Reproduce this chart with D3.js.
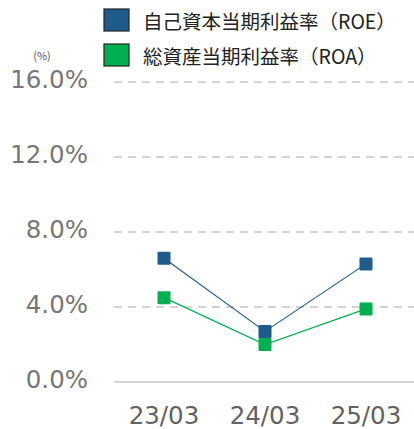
<!DOCTYPE html>
<html><head><meta charset="utf-8">
<script src="https://cdn.jsdelivr.net/npm/d3@7/dist/d3.min.js"></script>
<style>body{margin:0;background:#fff}svg{display:block}</style>
</head><body>
<svg id="c" width="414" height="429"></svg>
<script>
const categories = ["23/03","24/03","25/03"];
const roe = [6.6, 2.7, 6.3];
const roa = [4.5, 2.0, 3.9];
const yTicks = [0, 4, 8, 12, 16];
const seriesNames = ["自己資本当期利益率（ROE）", "総資産当期利益率（ROA）"];
const colors = ["#1f5c8b", "#00b050"];

const svg = d3.select("#c");
const font = "'Noto Sans CJK JP', sans-serif";
const numFont = "'DejaVu Sans', Verdana, sans-serif";
const x = d3.scalePoint().domain(categories).range([164, 366]);
const y = d3.scaleLinear().domain([0, 16]).range([382, 82]);

// grid
svg.append("g").selectAll("line").data(yTicks).join("line")
  .attr("x1", 114).attr("x2", 414)
  .attr("y1", d => y(d)).attr("y2", d => y(d))
  .attr("stroke", "#d4d4d4").attr("stroke-width", 2)
  .attr("stroke-dasharray", d => d === 0 ? null : "8,6");

// y labels
svg.append("g").selectAll("text").data(yTicks).join("text")
  .attr("x", 88).attr("y", d => y(d) + 6)
  .attr("text-anchor", "end").attr("fill", "#777")
  .attr("font-family", numFont).attr("font-size", 24.5)
  .text(d => d.toFixed(1) + "%");

svg.append("text").attr("x", 42).attr("y", 60).attr("text-anchor", "middle")
  .attr("fill", "#555").attr("font-family", font).attr("font-size", 11).text("(%)");

// x labels
svg.append("g").selectAll("text").data(categories).join("text")
  .attr("x", d => x(d)).attr("y", 424).attr("text-anchor", "middle")
  .attr("fill", "#626262").attr("font-family", numFont).attr("font-size", 24.5)
  .text(d => d);

const line = d3.line().x((d, i) => x(categories[i])).y(d => y(d));
[roe, roa].forEach((s, k) => {
  svg.append("path").attr("d", line(s)).attr("fill", "none")
    .attr("stroke", colors[k]).attr("stroke-width", 1.2);
  svg.append("g").selectAll("rect").data(s).join("rect")
    .attr("x", (d, i) => x(categories[i]) - 6.5).attr("y", d => y(d) - 6.5)
    .attr("width", 13).attr("height", 13).attr("rx", 1)
    .attr("fill", colors[k]);
});

// legend
const lg = svg.append("g");
seriesNames.forEach((n, k) => {
  lg.append("rect").attr("x", 104).attr("y", 9 + k * 35).attr("width", 25).attr("height", 22)
    .attr("fill", colors[k]).attr("stroke", "#222").attr("stroke-width", 1.2);
  lg.append("text").attr("x", 143).attr("y", 29 + k * 35)
    .attr("fill", "#222").attr("font-family", font).attr("font-size", 19.5).text(n);
});
</script>
</body></html>
